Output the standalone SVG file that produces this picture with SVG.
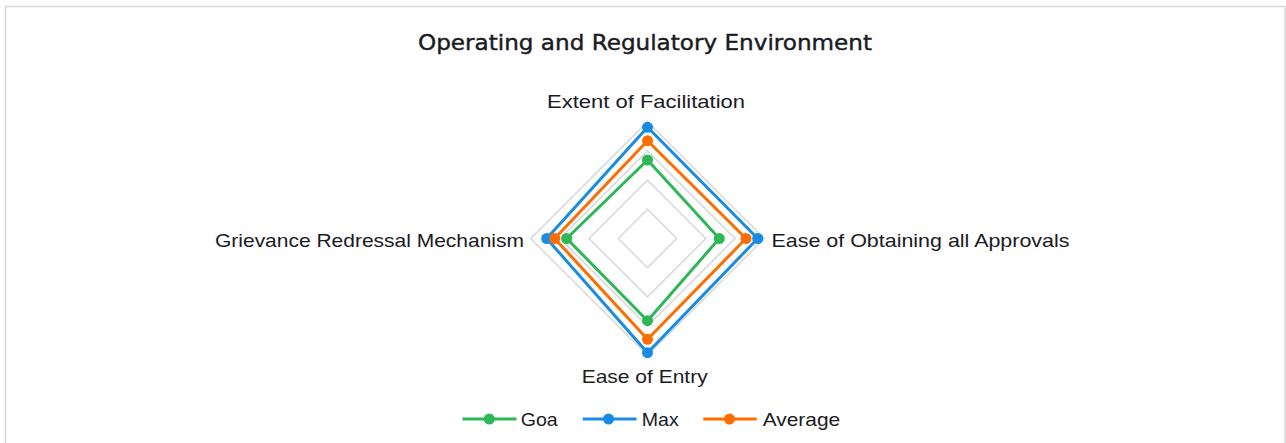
<svg xmlns="http://www.w3.org/2000/svg" width="1286" height="443" viewBox="0 0 1286 443">
<style>
.bg{fill:#ffffff}
.frame{fill:none;stroke:#d9d9d9;stroke-width:1.5}
.ring{fill:none;stroke:#d9d9de;stroke-width:1.6}
.title{font-family:"DejaVu Sans","Liberation Sans",sans-serif;font-size:21px;fill:#1a1a24;stroke:#1a1a24;stroke-width:0.4}
.lbl{font-family:"Liberation Sans","DejaVu Sans",sans-serif;font-size:19px;fill:#1a1a24}
.s{fill:none;stroke-width:3;stroke-linejoin:round}
.goa{stroke:#2db757}
.max{stroke:#188ce5}
.avg{stroke:#ff6d00}
.mg{fill:#2db757}
.mm{fill:#188ce5}
.ma{fill:#ff6d00}
</style>
<rect class="bg" x="0" y="0" width="1286" height="443"/>
<rect class="frame" x="5.5" y="6.5" width="1279.5" height="450"/>
<text id="title" class="title" x="645" y="50" text-anchor="middle" textLength="454" lengthAdjust="spacingAndGlyphs">Operating and Regulatory Environment</text>
<g id="grid">
<polygon class="ring" points="647.5,209.3 676.7,238.5 647.5,267.7 618.3,238.5"/>
<polygon class="ring" points="647.5,180.1 705.9,238.5 647.5,296.9 589.1,238.5"/>
<polygon class="ring" points="647.5,150.9 735.1,238.5 647.5,326.1 559.9,238.5"/>
<polygon class="ring" points="647.5,121.7 764.3,238.5 647.5,355.3 530.7,238.5"/>
</g>
<g id="axis-labels">
<text id="lbl-top" class="lbl" x="646" y="107.5" text-anchor="middle" textLength="198" lengthAdjust="spacingAndGlyphs">Extent of Facilitation</text>
<text id="lbl-right" class="lbl" x="771.5" y="246.5" textLength="298" lengthAdjust="spacingAndGlyphs">Ease of Obtaining all Approvals</text>
<text id="lbl-bottom" class="lbl" x="644.7" y="382.5" text-anchor="middle" textLength="126" lengthAdjust="spacingAndGlyphs">Ease of Entry</text>
<text id="lbl-left" class="lbl" x="524" y="246.5" text-anchor="end" textLength="309" lengthAdjust="spacingAndGlyphs">Grievance Redressal Mechanism</text>
</g>
<g id="connectors">
<polygon id="series-goa" class="s goa" points="647.5,160 719.3,238.5 647.5,320.7 566.7,238.5"/>
<polygon id="series-max" class="s max" points="647.5,127.3 757.7,238.5 647.5,352.7 546.7,238.5"/>
<polygon id="series-avg" class="s avg" points="647.5,140.7 746,238.5 647.5,339.3 554.7,238.5"/>
</g>
<g id="markers-goa" class="mg">
<circle cx="647.5" cy="160" r="5.5"/>
<circle cx="719.3" cy="238.5" r="5.5"/>
<circle cx="647.5" cy="320.7" r="5.5"/>
<circle cx="566.7" cy="238.5" r="5.5"/>
</g>
<g id="markers-max" class="mm">
<circle cx="647.5" cy="127.3" r="5.5"/>
<circle cx="757.7" cy="238.5" r="5.5"/>
<circle cx="647.5" cy="352.7" r="5.5"/>
<circle cx="546.7" cy="238.5" r="5.5"/>
</g>
<g id="markers-avg" class="ma">
<circle cx="647.5" cy="140.7" r="5.5"/>
<circle cx="746" cy="238.5" r="5.5"/>
<circle cx="647.5" cy="339.3" r="5.5"/>
<circle cx="554.7" cy="238.5" r="5.5"/>
</g>
<g id="legend">
<g id="legend-goa">
<line class="s goa" x1="462.5" y1="419" x2="516.5" y2="419"/>
<circle class="mg" cx="489.3" cy="419" r="5.5"/>
<text class="lbl" x="520.7" y="426" textLength="37" lengthAdjust="spacingAndGlyphs">Goa</text>
</g>
<g id="legend-max">
<line class="s max" x1="582.7" y1="419" x2="636.5" y2="419"/>
<circle class="mm" cx="608.5" cy="419" r="5.5"/>
<text class="lbl" x="641.7" y="426" textLength="37" lengthAdjust="spacingAndGlyphs">Max</text>
</g>
<g id="legend-avg">
<line class="s avg" x1="703.3" y1="419" x2="756.7" y2="419"/>
<circle class="ma" cx="729.5" cy="419" r="5.5"/>
<text class="lbl" x="762.7" y="426" textLength="77.5" lengthAdjust="spacingAndGlyphs">Average</text>
</g>
</g>
</svg>
